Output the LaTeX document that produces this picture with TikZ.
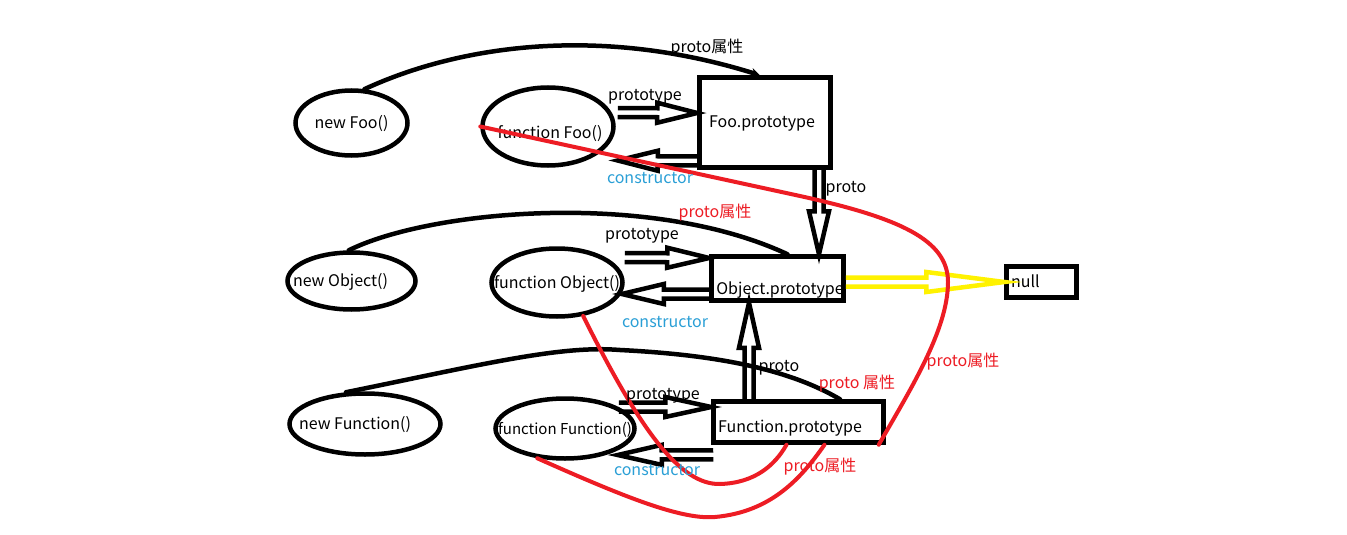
\documentclass[tikz,border=0pt]{standalone}
\usepackage{fontspec}
\setmainfont{Noto Sans CJK SC}
\usetikzlibrary{calc,shapes.geometric,arrows.meta}
\definecolor{pred}{HTML}{ED1C24}
\definecolor{pyel}{HTML}{FFF200}
\definecolor{pcyan}{HTML}{2A9FD6}
% text centred on the node, shifted by #1 (right) and #2 (up)
\newcommand\mtext[3]{\makebox[0pt]{\hspace*{#1}\hspace*{#1}\raisebox{#2}{#3}}}
% hollow (outline) arrow: [colour]{head length}{from}{to}
\newcommand\hollowarrow[4][black]{%
  \draw[line width=4.5pt,#1,line join=miter,line cap=butt]
    let \p1=#3, \p2=#4,
        \n1={veclen(\x2-\x1,\y2-\y1)},
        \n2={atan2(\y2-\y1,\x2-\x1)} in
    [shift={(\p1)},rotate=\n2]
    (0pt,4.5pt) -- (\n1-#2,4.5pt) -- (\n1-#2,10pt) -- (\n1,0pt)
    -- (\n1-#2,-10pt) -- (\n1-#2,-4.5pt) -- (0pt,-4.5pt);}
\tikzset{
  every node/.style={font=\fontsize{16}{18}\selectfont},
  ell/.style={ellipse, draw, line width=4.5pt, inner sep=0pt,
              text height=15pt, text depth=4pt},
  box/.style={rectangle, draw, line width=4.5pt, inner sep=0pt,
              text height=15pt, text depth=4pt},
  lbl/.style={inner sep=0pt, text height=14pt, text depth=4pt},
  curve/.style={line width=4.5pt, line cap=round},
  redcurve/.style={line width=4pt, pred, line cap=round},
}
\begin{document}
\begin{tikzpicture}[x=1pt,y=-1pt]
\useasboundingbox[fill=white] (0,0) rectangle (1347,535);

% ---- nodes: instances (ellipses)
\node[ell, minimum width=112, minimum height=65] (nFoo) at (351.5,123) {\mtext{0pt}{0pt}{new Foo()}};
\node[ell, minimum width=131, minimum height=78] (fFoo) at (548,126.5) {\mtext{2pt}{-6pt}{function Foo()}};
\node[ell, minimum width=128, minimum height=57] (nObj) at (351.5,281) {\mtext{-11pt}{0pt}{new Object()}};
\node[ell, minimum width=131, minimum height=68] (fObj) at (557,282.5) {\mtext{0pt}{0pt}{function Object()}};
\node[ell, minimum width=151, minimum height=61] (nFun) at (365,424) {\mtext{-10pt}{0pt}{new Function()}};
\node[ell, minimum width=139, minimum height=60, font=\fontsize{15}{17}\selectfont] (fFun) at (565,428.5) {\mtext{0pt}{0pt}{function Function()}};

% ---- prototype objects (boxes)
\node[box, minimum width=131, minimum height=90] (pFoo) at (765,122.5) {\mtext{-3pt}{0pt}{Foo.prototype}};
\node[box, minimum width=132, minimum height=44] (pObj) at (777.5,278.5) {\mtext{2.5pt}{-10pt}{Object.prototype}};
\node[box, minimum width=170, minimum height=41] (pFun) at (798.5,422) {\mtext{-8.5pt}{-5pt}{Function.prototype}};
\node[box, minimum width=70, minimum height=31] (null) at (1041.5,282) {\mtext{-16pt}{0pt}{null}};

% ---- black proto curves (instance -> prototype)
\draw[curve, -{Stealth[length=9pt,width=9pt]}] (nFoo.69) .. controls (460,45) and (600,25) .. ($(pFoo.north)+(-5,0)$);
\draw[curve] (nObj.95) .. controls (430,210) and (650,190) .. ($(pObj.north)+(10,0)$);
\draw[curve] (nFun.121) .. controls (480,365) and (560,345) .. (620,350)
                        .. controls (720,355) and (790,370) .. ($(pFun.north)+(41.5,0)$);

% ---- prototype arrows (constructor -> prototype)
\hollowarrow{40pt}{($(fFoo.east)+(2,-14)$)}{($(pFoo.west)+(0,-9.5)$)}
\hollowarrow{42pt}{($(fObj.east)+(0,-25)$)}{($(pObj.west)+(0,-20.5)$)}
\hollowarrow{46pt}{($(fFun.east)+(-18,-21.5)$)}{($(pFun.west)+(0,-15)$)}

% ---- constructor arrows (prototype -> constructor)
\hollowarrow{40pt}{($(pFoo.west)+(0,38.5)$)}{($(fFoo.east)+(2,34)$)}
\hollowarrow{42pt}{($(pObj.west)+(0,15.5)$)}{($(fObj.east)+(-3,11.5)$)}
\hollowarrow{44pt}{($(pFun.south west)+(2,10)$)}{($(fFun.east)+(-19,26.5)$)}

% ---- proto arrows between prototype objects
\hollowarrow{43pt}{($(pFoo.south)+(54,0)$)}{($(pObj.north)+(41.5,0)$)}
\hollowarrow{45pt}{($(pFun.north)+(-49.5,0)$)}{($(pObj.south)+(-28.5,0)$)}
\hollowarrow[pyel]{78pt}{($(pObj.east)+(0,3.5)$)}{(null.west)}

% ---- red proto curves (functions -> Function.prototype)
\draw[redcurve] (fFoo.west) -- (800,196) .. controls (900,218) and (948,240) .. (948,282)
                .. controls (948,330) and (910,390) .. ($(pFun.south east)+(-7,0)$);
\draw[redcurve] (fObj.-52) .. controls (640,430) and (680,485) .. (720,484)
                .. controls (755,483) and (775,465) .. ($(pFun.south)+(-12,0)$);
\draw[redcurve] (fFun.-133) .. controls (620,495) and (680,520) .. (715,517)
                .. controls (770,512) and (800,480) .. ($(pFun.south)+(26,0)$);

% ---- labels
\node[lbl] (l1) at (707,48) {proto属性};
\node[lbl] (l2) at (645,95) {prototype};
\node[lbl] (l3) at (642,234) {prototype};
\node[lbl] (l4) at (663,394) {prototype};
\node[lbl] (l5) at (846,187) {proto};
\node[lbl] (l6) at (779,366) {proto};
\node[lbl, pcyan] (l7) at (650,178) {constructor};
\node[lbl, pcyan] (l8) at (665,322) {constructor};
\node[lbl, pcyan] (l9) at (657,470) {constructor};
\node[lbl, pred] (l10) at (715,212) {proto属性};
\node[lbl, pred] (l11) at (963,361) {proto属性};
\node[lbl, pred] (l12) at (857,383) {proto 属性};
\node[lbl, pred] (l13) at (820,466) {proto属性};
\end{tikzpicture}
\end{document}
